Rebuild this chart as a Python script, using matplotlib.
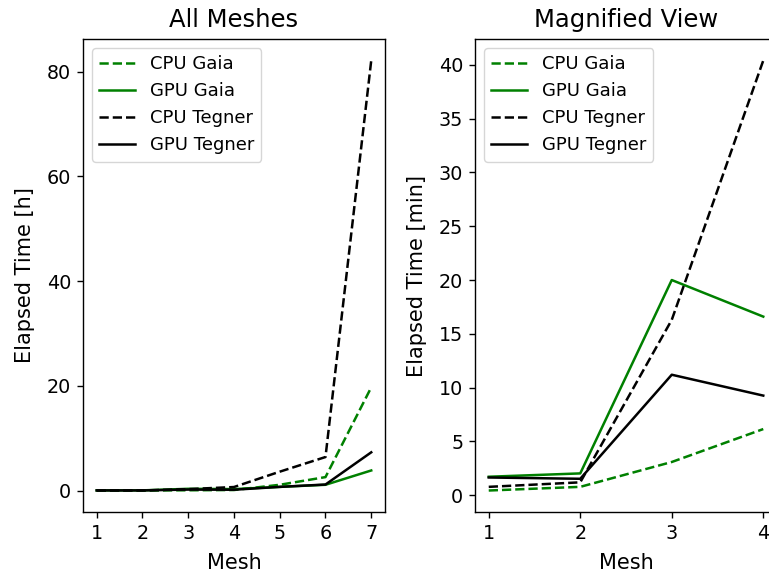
import numpy as np
import matplotlib
matplotlib.use("Agg")
import matplotlib.pyplot as plt

plt.rcParams['font.family'] = ['DejaVu Sans']
plt.rcParams['font.size'] = 13.8
plt.rcParams['lines.linewidth'] = 1.8
plt.rcParams['axes.linewidth'] = 1.0
for axis in ('xtick', 'ytick'):
    plt.rcParams[f'{axis}.major.size'] = 4.3
    plt.rcParams[f'{axis}.major.width'] = 1.0
    plt.rcParams[f'{axis}.major.pad'] = 4.2

# Elapsed wall-clock time per mesh, in minutes
meshes = [1, 2, 3, 4, 5, 6, 7]
cpu_gaia = [0.44, 0.78, 3.09, 6.15, 66, 154, 1182]
gpu_gaia = [1.72, 2.03, 20.0, 16.6, 42, 66, 230]
cpu_tegner = [0.78, 1.2, 16.3, 40.4, 216, 384, 4926]
gpu_tegner = [1.65, 1.53, 11.2, 9.26, 42, 69, 438]

series_labels = ["CPU Gaia", "GPU Gaia", "CPU Tegner", "GPU Tegner"]
series_colors = ["g", "g", "k", "k"]
series_styles = ["--", "-", "--", "-"]
zoom_count = 4  # meshes shown in the magnified panel

fig = plt.figure(figsize=(7.69, 5.79), dpi=100)
ax1 = fig.add_axes([0.1079, 0.1157, 0.3927, 0.8169])
ax2 = fig.add_axes([0.6177, 0.1157, 0.3927, 0.8169])

all_series = [cpu_gaia, gpu_gaia, cpu_tegner, gpu_tegner]
for vals, lab, col, ls in zip(all_series, series_labels, series_colors, series_styles):
    v = np.asarray(vals, dtype=float)
    ax1.plot(meshes, v / 60.0, color=col, linestyle=ls, label=lab)
    ax2.plot(meshes[:zoom_count], v[:zoom_count], color=col, linestyle=ls, label=lab)

title_size = 17.5
label_size = 15
legend_size = 13

ax1.set_title("All Meshes", fontsize=title_size, pad=8.5)
ax1.set_xlabel("Mesh", fontsize=label_size, labelpad=7.5)
ax1.set_ylabel("Elapsed Time [h]", fontsize=label_size, labelpad=8.5)
ax1.set_xticks(meshes)
ax1.legend(loc="upper left", fontsize=legend_size)

ax2.set_title("Magnified View", fontsize=title_size, pad=8.5)
ax2.set_xlabel("Mesh", fontsize=label_size, labelpad=7.5)
ax2.set_ylabel("Elapsed Time [min]", fontsize=label_size, labelpad=8.5)
ax2.set_xticks(meshes[:zoom_count])
ax2.legend(loc="upper left", fontsize=legend_size)

fig.savefig("out.png", dpi=100)
